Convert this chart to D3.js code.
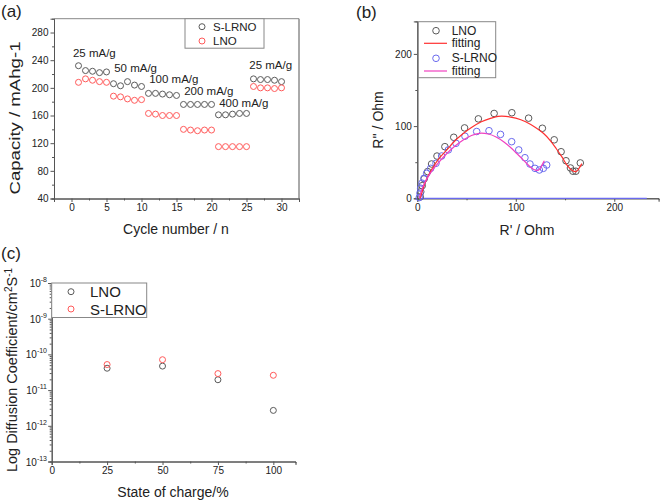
<!DOCTYPE html>
<html><head><meta charset="utf-8">
<script src="https://cdn.jsdelivr.net/npm/d3@7"></script>
<style>
body{margin:0;background:#fff;}
svg{font-family:"Liberation Sans",Arial,sans-serif;}
</style></head>
<body><svg id="c" width="661" height="502"></svg>
<script>
// ---------- Panel (a) data ----------
const cycles = d3.range(1, 31);
const capSLRNO = [232,225,224,222,223, 206,203,209,204,202, 192,192,191,190,189, 176,176,176,176,176, 161,161,162,163,163, 213,212,212,211,209];
const capLNO   = [208,213,211,209,208, 188,187,184,182,183, 163,162,160,160,160, 140,139,138,139,139, 115,115,115,115,115, 202,200,200,199,200];
const rateLabels = ["25 mA/g","50 mA/g","100 mA/g","200 mA/g","400 mA/g","25 mA/g"];
const rateLabelAnchors = [[0.2,244.5],[6.1,223.5],[11.1,206.7],[16.1,189.8],[21.1,172.8],[25.4,227.4]];
const aYTicks = [40,80,120,160,200,240,280];
const aXTicks = [0,5,10,15,20,25,30];

// ---------- Panel (b) data ----------
const eisLNO = [[3,2],[3.5,9],[5,17.5],[7,27],[10.5,37],[14.5,47.5],[20,58.5],[28,71.5],[37,84.5],[48,97.5],[62,110],[78,117.5],[96,118.5],[113,111],[127,97],[139,81],[146,64.5],[151,52],[155.5,42],[158,37.5],[161,37.5],[165.5,49]];
const eisSLRNO = [[2,1],[2.7,7],[3.4,14],[4.8,21],[6.8,27.7],[9.5,34.6],[13.6,41.5],[19,48.5],[24.7,58.6],[31.5,67],[39.3,76.2],[48.4,86],[60.3,92.5],[72.8,93.6],[84.5,88.5],[95.8,78.4],[103,67],[109.3,56.2],[114.4,47.5],[119.5,41.5],[123.9,39.2],[128,41.5],[131.4,46.1]];
const fitLNO = [[3,0],[6,14],[10,28],[15,41],[22,55],[30,67],[37,78],[46,89],[55,98],[65,106],[75,111],[82,113.5],[90,113.5],[100,111],[110,106],[120,98],[128,90],[135,80],[141,69],[147,57],[152,46],[157,39],[161,37],[164,41],[167,48]];
const fitSLRNO = [[2,0],[4,10],[7,20],[11,30],[16,40],[22,50],[30,62],[38,72],[47,81],[55,87],[63,90],[72,89],[80,85],[88,78],[95,70],[101,62],[107,54],[112,47],[116,42],[120,39],[123,39],[125,42],[127,47],[129,52]];
const bTicks = [0,100,200];

// ---------- Panel (c) data ----------
const soc = [25,50,75,100];
const dLNO = [4.1e-11, 4.7e-11, 1.95e-11, 2.7e-12];
const dSLRNO = [5.2e-11, 7.1e-11, 2.9e-11, 2.6e-11];
const cXTicks = [0,25,50,75,100];
const cYExp = [-13,-12,-11,-10,-9,-8];

const svg = d3.select("#c");
const AX = "#555";
const GRAY = "#5a5a5a", RED = "#ff5a5a", BLUE = "#6a6aee", FITRED = "#ff3030", FITMAG = "#f040c0";

function styleAxis(g){
  g.selectAll("path,line").attr("stroke", AX);
  g.selectAll("text").attr("fill","#222").attr("font-size",10).attr("font-family","Liberation Sans, Arial, sans-serif");
}

// ================= Panel (a) =================
{
  const x = d3.scaleLinear().domain([-2.5,32.5]).range([54,299]);
  const y = d3.scaleLinear().domain([40,300]).range([198.5,18.7]);
  const g = svg.append("g");
  g.append("g").attr("transform","translate(0,198.5)")
    .call(d3.axisBottom(x).tickValues(d3.range(-2.5,33,5)).tickSize(2).tickFormat(""))
    .call(styleAxis);
  g.append("g").attr("transform","translate(54,0)")
    .call(d3.axisLeft(y).tickValues(d3.range(60,300,40)).tickSize(2).tickFormat(""))
    .call(styleAxis);
  g.append("g").attr("transform","translate(0,198.5)")
    .call(d3.axisBottom(x).tickValues(aXTicks).tickSize(3.5).tickPadding(2))
    .call(styleAxis);
  g.append("g").attr("transform","translate(54,0)")
    .call(d3.axisLeft(y).tickValues(aYTicks).tickSize(3.5).tickPadding(2))
    .call(styleAxis);
  g.append("line").attr("x1",299).attr("x2",299).attr("y1",18.7).attr("y2",198.5).attr("stroke",AX);
  g.append("line").attr("x1",54).attr("x2",299).attr("y1",18.7).attr("y2",18.7).attr("stroke","#888");
  g.selectAll("c.s").data(cycles).enter().append("circle")
    .attr("cx",d=>x(d)).attr("cy",(d,i)=>y(capSLRNO[i])).attr("r",3)
    .attr("fill","none").attr("stroke",GRAY).attr("stroke-width",1);
  g.selectAll("c.l").data(cycles).enter().append("circle")
    .attr("cx",d=>x(d)).attr("cy",(d,i)=>y(capLNO[i])).attr("r",3)
    .attr("fill","none").attr("stroke",RED).attr("stroke-width",1);
  g.selectAll("text.rate").data(rateLabels).enter().append("text")
    .attr("x",(d,i)=>x(rateLabelAnchors[i][0])).attr("y",(d,i)=>y(rateLabelAnchors[i][1]))
    .attr("font-size",11.5).attr("fill","#222").text(d=>d);
  g.append("rect").attr("x",185).attr("y",18.7).attr("width",79).attr("height",29.5)
    .attr("fill","#fff").attr("stroke","#888");
  [["S-LRNO",GRAY,26.7],["LNO",RED,41]].forEach(([t,c,yy])=>{
    g.append("circle").attr("cx",202).attr("cy",yy).attr("r",3).attr("fill","none").attr("stroke",c);
    g.append("text").attr("x",213).attr("y",yy+4).attr("font-size",11.5).attr("fill","#222").text(t);
  });
  g.append("text").attr("x",176).attr("y",234).attr("text-anchor","middle").attr("font-size",14).attr("fill","#222").text("Cycle number / n");
  g.append("text").attr("transform","translate(20,118) rotate(-90)").attr("text-anchor","middle")
    .attr("font-size",14).attr("fill","#222").attr("textLength",153).attr("lengthAdjust","spacingAndGlyphs").text("Capacity / mAhg-1");
  g.append("text").attr("x",1).attr("y",17).attr("font-size",17).attr("fill","#222").text("(a)");
}

// ================= Panel (b) =================
{
  const x = d3.scaleLinear().domain([0,245]).range([417.3,658.6]);
  const y = d3.scaleLinear().domain([0,245]).range([198.3,21.4]);
  const g = svg.append("g");
  g.append("g").attr("transform","translate(0,198.3)")
    .call(d3.axisBottom(x).tickValues([50,150]).tickSize(2).tickFormat(""))
    .call(styleAxis);
  g.append("g").attr("transform","translate(417.3,0)")
    .call(d3.axisLeft(y).tickValues([50,150]).tickSize(2).tickFormat(""))
    .call(styleAxis);
  g.append("g").attr("transform","translate(0,198.3)")
    .call(d3.axisBottom(x).tickValues(bTicks).tickSize(3.5).tickPadding(2))
    .call(styleAxis);
  g.append("g").attr("transform","translate(417.3,0)")
    .call(d3.axisLeft(y).tickValues(bTicks).tickSize(3.5).tickPadding(2))
    .call(styleAxis);
  g.append("line").attr("x1",x(2)).attr("x2",x(233)).attr("y1",y(0)).attr("y2",y(0)).attr("stroke",BLUE).attr("stroke-width",1.3);
  const line = d3.line().x(d=>x(d[0])).y(d=>y(d[1])).curve(d3.curveCatmullRom);
  g.selectAll("circle.l").data(eisLNO).enter().append("circle")
    .attr("cx",d=>x(d[0])).attr("cy",d=>y(d[1])).attr("r",3.3).attr("fill","none").attr("stroke",GRAY);
  g.selectAll("circle.s").data(eisSLRNO).enter().append("circle")
    .attr("cx",d=>x(d[0])).attr("cy",d=>y(d[1])).attr("r",3.3).attr("fill","none").attr("stroke",BLUE);
  g.append("path").attr("d",line(fitLNO)).attr("fill","none").attr("stroke",FITRED).attr("stroke-width",1.2);
  g.append("path").attr("d",line(fitSLRNO)).attr("fill","none").attr("stroke",FITMAG).attr("stroke-width",1.2);
  g.append("rect").attr("x",418.3).attr("y",21.7).attr("width",77.4).attr("height",56).attr("fill","#fff").attr("stroke","#888");
  const leg = [["LNO","c",GRAY,30.7],["fitting","l",FITRED,43.3],["S-LRNO","c",BLUE,58.3],["fitting","l",FITMAG,71]];
  leg.forEach(([t,k,c,yy])=>{
    if(k==="c") g.append("circle").attr("cx",436).attr("cy",yy).attr("r",3.3).attr("fill","none").attr("stroke",c);
    else g.append("line").attr("x1",424).attr("x2",447).attr("y1",yy).attr("y2",yy).attr("stroke",c).attr("stroke-width",1.2);
    g.append("text").attr("x",451.7).attr("y",yy+4).attr("font-size",12).attr("fill","#222").text(t);
  });
  g.append("text").attr("x",527).attr("y",235).attr("text-anchor","middle").attr("font-size",14).attr("fill","#222").text("R' / Ohm");
  g.append("text").attr("transform","translate(383,120) rotate(-90)").attr("text-anchor","middle").attr("font-size",14).attr("fill","#222").text("R'' / Ohm");
  g.append("text").attr("x",356).attr("y",18).attr("font-size",17).attr("fill","#222").text("(b)");
}

// ================= Panel (c) =================
{
  const x = d3.scaleLinear().domain([0,110]).range([51.7,295.5]);
  const y = d3.scaleLog().domain([1e-13,1e-8]).range([461.5,283]);
  const g = svg.append("g");
  const minorX = d3.range(12.5,110,25);
  g.append("g").attr("transform","translate(0,461.5)")
    .call(d3.axisBottom(x).tickValues(minorX).tickSize(2).tickFormat(""))
    .call(styleAxis);
  const minorY = [];
  cYExp.slice(0,-1).forEach(e=>{ for(let k=2;k<=9;k++) minorY.push(k*Math.pow(10,e)); });
  g.append("g").attr("transform","translate(51.7,0)")
    .call(d3.axisLeft(y).tickValues(minorY).tickSize(2).tickFormat(""))
    .call(styleAxis);
  g.append("g").attr("transform","translate(0,461.5)")
    .call(d3.axisBottom(x).tickValues(cXTicks).tickSize(3.5).tickPadding(2))
    .call(styleAxis);
  g.append("g").attr("transform","translate(51.7,0)")
    .call(d3.axisLeft(y).tickValues(cYExp.map(e=>Math.pow(10,e))).tickSize(3.5).tickFormat(""))
    .call(styleAxis);
  cYExp.forEach(e=>{
    const t = g.append("text").attr("x",47).attr("y",y(Math.pow(10,e))+4).attr("text-anchor","end").attr("font-size",10).attr("fill","#222");
    t.append("tspan").text("10");
    t.append("tspan").attr("dy",-5).attr("font-size",7).text(String(e));
  });
  g.append("rect").attr("x",51.7).attr("y",283).attr("width",95).attr("height",34.5).attr("fill","#fff").attr("stroke","#888");
  [["LNO",GRAY,291.7],["S-LRNO",RED,309]].forEach(([t,c,yy])=>{
    g.append("circle").attr("cx",71).attr("cy",yy).attr("r",3).attr("fill","none").attr("stroke",c);
    g.append("text").attr("x",90).attr("y",yy+5.5).attr("font-size",15).attr("fill","#222").text(t);
  });
  g.selectAll("circle.l").data(soc).enter().append("circle")
    .attr("cx",d=>x(d)).attr("cy",(d,i)=>y(dLNO[i])).attr("r",3).attr("fill","none").attr("stroke",GRAY);
  g.selectAll("circle.s").data(soc).enter().append("circle")
    .attr("cx",d=>x(d)).attr("cy",(d,i)=>y(dSLRNO[i])).attr("r",3).attr("fill","none").attr("stroke",RED);
  g.append("text").attr("x",173).attr("y",497).attr("text-anchor","middle").attr("font-size",14).attr("fill","#222").text("State of charge/%");
  const yt = g.append("text").attr("transform","translate(17,370) rotate(-90)").attr("text-anchor","middle").attr("font-size",14.5).attr("fill","#222");
  yt.append("tspan").text("Log Diffusion Coefficient/cm");
  yt.append("tspan").attr("dy",-5).attr("font-size",10).text("2");
  yt.append("tspan").attr("dy",5).text("S");
  yt.append("tspan").attr("dy",-5).attr("font-size",10).text("-1");
  g.append("text").attr("x",1).attr("y",259).attr("font-size",17).attr("fill","#222").text("(c)");
}
</script></body></html>
